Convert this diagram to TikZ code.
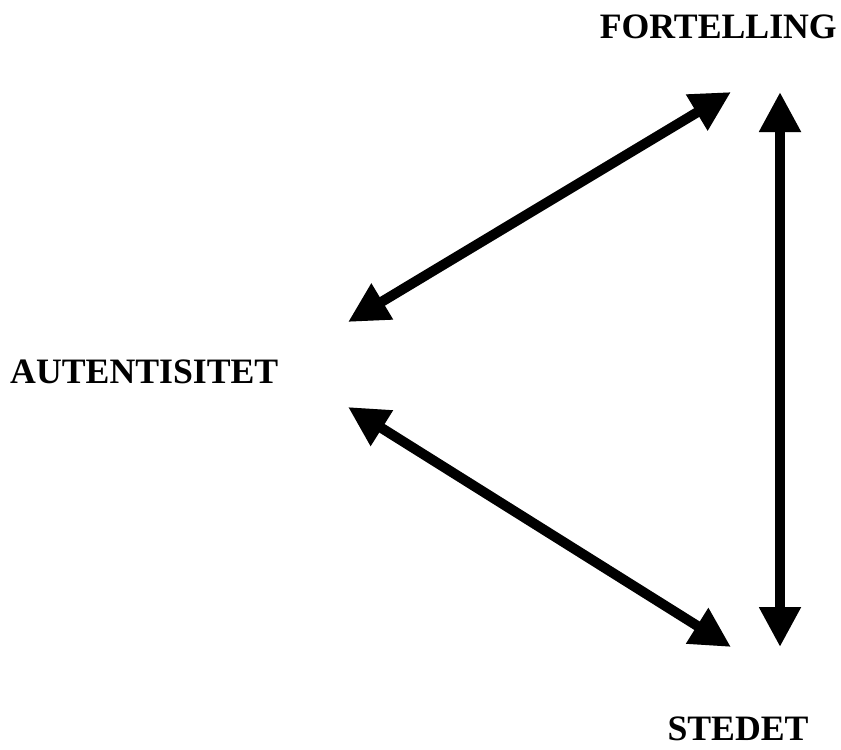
\documentclass[tikz,border=0pt]{standalone}
\usepackage{fontspec}
\setmainfont{Liberation Serif}
\usetikzlibrary{arrows.meta}

\begin{document}
\begin{tikzpicture}[x=0.03cm, y=-0.03cm,
    every node/.style={font=\fontsize{30.5}{36}\selectfont\bfseries, inner sep=0pt},
    dobbel/.style={line width=0.3cm, {Triangle[length=1.2cm, width=1.18cm]}-{Triangle[length=1.2cm, width=1.18cm]}},
    skygge/.style={dobbel, black!60, opacity=0.25, shift={(2,4)}}]
  \useasboundingbox (0,0) rectangle (841,749);
  % labels
  \node[anchor=base east] (fortelling) at (837,38) {FORTELLING};
  \node[anchor=base west] (autentisitet) at (10,383) {AUTENTISITET};
  \node[anchor=base] (stedet) at (738,740) {STEDET};
  % arrow ends
  \coordinate (autOpp) at (348,322);
  \coordinate (autNed) at (348,407);
  \coordinate (fortVenstre) at (731,92);
  \coordinate (fortHoyre) at (780,92);
  \coordinate (stedVenstre) at (731,647);
  \coordinate (stedHoyre) at (780,647);
  % shadows, then arrows
  \foreach \a/\b in {autOpp/fortVenstre, autNed/stedVenstre, fortHoyre/stedHoyre} {
    \draw[skygge] (\a) -- (\b);
    \draw[dobbel] (\a) -- (\b);
  }
\end{tikzpicture}
\end{document}
